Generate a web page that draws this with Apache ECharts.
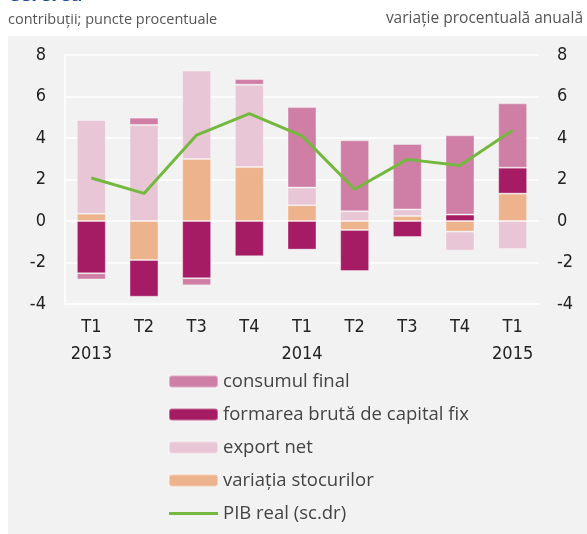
<!DOCTYPE html>
<html>
<head>
<meta charset="utf-8">
<script src="https://cdn.jsdelivr.net/npm/echarts@6/dist/echarts.min.js"></script>
<style>
html,body{margin:0;padding:0;background:#fff;}
#c{width:587px;height:534px;}
</style>
</head>
<body>
<div id="c"></div>
<script>
const quarters = ['T1','T2','T3','T4','T1','T2','T3','T4','T1'];
const years = ['2013','','','','2014','','','','2015'];
const variatiaStocurilor = [0.35, -1.88, 2.99, 2.60, 0.76, -0.43, 0.24, -0.51, 1.32];
const formareaBruta = [-2.52, -1.77, -2.76, -1.70, -1.38, -1.98, -0.77, 0.31, 1.25];
const exportNet = [4.52, 4.63, 4.26, 3.97, 0.85, 0.47, 0.32, -0.92, -1.35];
const consumulFinal = [-0.30, 0.35, -0.34, 0.27, 3.88, 3.42, 3.15, 3.82, 3.10];
const pibReal = [2.07, 1.33, 4.14, 5.17, 4.1, 1.53, 2.97, 2.68, 4.37];
const yTicks = [-4, -2, 0, 2, 4, 6, 8];

const categories = quarters.map((q, i) => q + '\n' + years[i]);

const colors = {
  consum: '#cf7fa5',
  formare: '#a61c64',
  export: '#e8c6d6',
  stocuri: '#edb38c',
  pib: '#74b83f'
};

const chart = echarts.init(document.getElementById('c'), null, {renderer: 'canvas'});
const tickFont = {fontFamily: '"Liberation Sans Narrow", "DejaVu Sans Condensed", sans-serif', fontSize: 18, color: '#222'};
const yMin = yTicks[0], yMax = yTicks[yTicks.length - 1];

const barCommon = {type: 'bar', stack: 'a', barWidth: '55%', yAxisIndex: 0};
const edge = {borderColor: 'rgba(255,255,255,0.35)', borderWidth: 1};

chart.setOption({
  animation: false,
  backgroundColor: '#ffffff',
  graphic: [
    {type: 'rect', shape: {x: 8, y: 36, width: 579, height: 498}, style: {fill: '#f2f2f2'}, z: -10},
    {type: 'text', left: 8, top: -14, style: {text: 'Cererea', font: 'bold 19px "Open Sans", sans-serif', fill: '#1f4e9c'}},
    {type: 'text', left: 8, top: 12, style: {text: 'contribuții; puncte procentuale', font: '14.5px "Open Sans", sans-serif', fill: '#555'}},
    {type: 'text', right: 4, top: 11, style: {text: 'variație procentuală anuală', font: '15.5px "Open Sans", sans-serif', fill: '#555'}}
  ],
  grid: {left: 65, right: 48, top: 55, bottom: 230, containLabel: false},
  legend: {
    orient: 'vertical',
    left: 163,
    top: 367,
    itemWidth: 49,
    itemHeight: 12,
    itemGap: 14,
    symbolKeepAspect: true,
    textStyle: {fontFamily: 'Open Sans, sans-serif', fontSize: 18.5, color: '#444'},
    data: ['consumul final', 'formarea brută de capital fix', 'export net', 'variația stocurilor',
      {name: 'PIB real (sc.dr)', icon: 'path://M0,0H100V6H0Z'}]
  },
  xAxis: {
    type: 'category',
    data: categories,
    axisLine: {show: false},
    axisTick: {show: false},
    axisLabel: Object.assign({margin: 10, lineHeight: 27, interval: 0}, tickFont)
  },
  yAxis: [
    {
      type: 'value', min: yMin, max: yMax, interval: 2, position: 'left',
      axisLine: {show: true, lineStyle: {color: '#fff', width: 1.5}},
      axisTick: {show: false},
      splitLine: {lineStyle: {color: '#fff', width: 1.5}},
      axisLabel: Object.assign({margin: 19}, tickFont)
    },
    {
      type: 'value', min: yMin, max: yMax, interval: 2, position: 'right',
      axisLine: {show: false},
      axisTick: {show: false},
      splitLine: {show: false},
      axisLabel: Object.assign({margin: 18}, tickFont)
    }
  ],
  series: [
    Object.assign({name: 'variația stocurilor', data: variatiaStocurilor, itemStyle: Object.assign({color: colors.stocuri}, edge)}, barCommon),
    Object.assign({name: 'formarea brută de capital fix', data: formareaBruta, itemStyle: Object.assign({color: colors.formare}, edge)}, barCommon),
    Object.assign({name: 'export net', data: exportNet, itemStyle: Object.assign({color: colors.export}, edge)}, barCommon),
    Object.assign({name: 'consumul final', data: consumulFinal, itemStyle: Object.assign({color: colors.consum}, edge)}, barCommon),
    {name: 'PIB real (sc.dr)', type: 'line', yAxisIndex: 1, data: pibReal, symbol: 'none',
      lineStyle: {color: colors.pib, width: 3}, itemStyle: {color: colors.pib}, z: 5}
  ]
});
</script>
</body>
</html>
